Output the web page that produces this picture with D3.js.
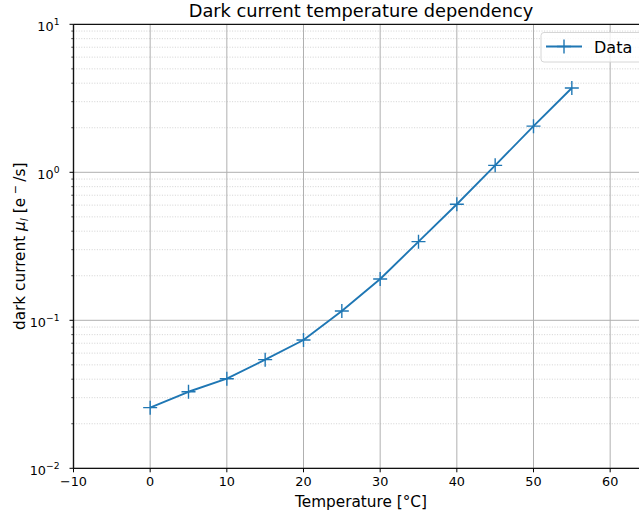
<!DOCTYPE html>
<html>
<head>
<meta charset="utf-8">
<script src="https://cdn.jsdelivr.net/npm/d3@7/dist/d3.min.js"></script>
<style>
  html, body { margin: 0; padding: 0; background: #fff; }
  svg { display: block; font-family: "DejaVu Sans", sans-serif; }
</style>
</head>
<body>
<svg id="chart" width="639" height="516"></svg>
<script>
// Measured dark current vs. sensor temperature
const temperatures = [0, 5, 10, 15, 20, 25, 30, 35, 40, 45, 50, 55];
const darkCurrent = [0.0257, 0.0329, 0.0403, 0.0542, 0.0736, 0.1156, 0.190, 0.340, 0.608, 1.114, 2.05, 3.71];
const xTicks = [-10, 0, 10, 20, 30, 40, 50, 60];
const yExponents = [-2, -1, 0, 1];
const seriesName = "Data";

(function draw() {
  const svg = d3.select("#chart");
  const pLeft = 73.5, pRight = 648.5, pTop = 24.3, pBottom = 468.3;
  const blue = "#1f77b4";

  const x = d3.scaleLinear().domain([-10, 65]).range([pLeft, pRight]);
  const y = d3.scaleLog().domain([0.01, 10]).range([pBottom, pTop]);

  const fmtMinus = v => String(v).replace("-", "\u2212");

  // clip for plot contents
  svg.append("defs").append("clipPath").attr("id", "plotclip")
    .append("rect").attr("x", pLeft).attr("y", pTop).attr("width", pRight - pLeft).attr("height", pBottom - pTop);

  const plot = svg.append("g").attr("clip-path", "url(#plotclip)");

  // minor horizontal grid (dotted)
  const minorVals = [];
  yExponents.slice(0, -1).forEach(e => {
    for (let m = 2; m <= 9; m++) minorVals.push(m * Math.pow(10, e));
  });
  plot.append("g").selectAll("line").data(minorVals).join("line")
    .attr("x1", pLeft).attr("x2", pRight)
    .attr("y1", d => y(d)).attr("y2", d => y(d))
    .attr("stroke", "#c8c8c8").attr("stroke-width", 0.8).attr("stroke-dasharray", "1,1.6");

  // major grid
  plot.append("g").selectAll("line").data(yExponents.map(e => Math.pow(10, e))).join("line")
    .attr("x1", pLeft).attr("x2", pRight)
    .attr("y1", d => y(d)).attr("y2", d => y(d))
    .attr("stroke", "#b0b0b0").attr("stroke-width", 1);
  plot.append("g").selectAll("line").data(xTicks).join("line")
    .attr("x1", d => x(d)).attr("x2", d => x(d))
    .attr("y1", pTop).attr("y2", pBottom)
    .attr("stroke", "#b0b0b0").attr("stroke-width", 1);

  // data line + markers
  const pts = temperatures.map((t, i) => [t, darkCurrent[i]]);
  plot.append("path").datum(pts)
    .attr("fill", "none").attr("stroke", blue).attr("stroke-width", 1.9)
    .attr("stroke-linejoin", "round")
    .attr("d", d3.line().x(d => x(d[0])).y(d => y(d[1])));
  const ms = 7;
  plot.append("g").selectAll("path").data(pts).join("path")
    .attr("d", d => {
      const cx = x(d[0]), cy = y(d[1]);
      return `M${cx - ms},${cy}H${cx + ms}M${cx},${cy - ms}V${cy + ms}`;
    })
    .attr("stroke", blue).attr("stroke-width", 1.4).attr("fill", "none");

  // spines
  const spine = (x1, y1, x2, y2, w) => svg.append("line")
    .attr("x1", x1).attr("y1", y1).attr("x2", x2).attr("y2", y2)
    .attr("stroke", "#111").attr("stroke-width", w);
  spine(pLeft, pTop, pRight, pTop, 1.2);
  spine(pLeft, pBottom, pRight, pBottom, 1.2);
  spine(pLeft, pTop, pLeft, pBottom, 1.4);
  spine(pRight, pTop, pRight, pBottom, 1.2);

  // x axis ticks and labels
  const xg = svg.append("g");
  xg.selectAll("line").data(xTicks).join("line")
    .attr("x1", d => x(d)).attr("x2", d => x(d))
    .attr("y1", pBottom).attr("y2", pBottom + 4)
    .attr("stroke", "#000").attr("stroke-width", 1);
  xg.selectAll("text").data(xTicks).join("text")
    .attr("x", d => x(d)).attr("y", pBottom + 18)
    .attr("text-anchor", "middle").attr("font-size", 12.8).attr("fill", "#000")
    .text(d => fmtMinus(d));

  // y axis ticks (major + minor) and labels
  const yg = svg.append("g");
  yg.selectAll("line.minor").data(minorVals).join("line").attr("class", "minor")
    .attr("x1", pLeft - 2.2).attr("x2", pLeft)
    .attr("y1", d => y(d)).attr("y2", d => y(d))
    .attr("stroke", "#000").attr("stroke-width", 0.7);
  yg.selectAll("line.major").data(yExponents).join("line").attr("class", "major")
    .attr("x1", pLeft - 4).attr("x2", pLeft)
    .attr("y1", d => y(Math.pow(10, d))).attr("y2", d => y(Math.pow(10, d)))
    .attr("stroke", "#000").attr("stroke-width", 1);
  const yl = yg.selectAll("text").data(yExponents).join("text")
    .attr("x", pLeft - 14).attr("y", d => y(Math.pow(10, d)) + 6.5)
    .attr("text-anchor", "end").attr("font-size", 12.8).attr("fill", "#000");
  yl.append("tspan").text("10");
  yl.append("tspan").attr("dy", -6).attr("font-size", 9.2).text(d => fmtMinus(d));

  // title and axis labels
  svg.append("text").attr("x", (pLeft + pRight) / 2).attr("y", 17)
    .attr("text-anchor", "middle").attr("font-size", 17.8).attr("fill", "#000")
    .text("Dark current temperature dependency");
  svg.append("text").attr("x", (pLeft + pRight) / 2).attr("y", 507)
    .attr("text-anchor", "middle").attr("font-size", 15.3).attr("fill", "#000")
    .text("Temperature [°C]");
  const ylab = svg.append("text")
    .attr("transform", `translate(25,${(pTop + pBottom) / 2}) rotate(-90)`)
    .attr("text-anchor", "middle").attr("font-size", 15.3).attr("fill", "#000");
  ylab.append("tspan").text("dark current ");
  ylab.append("tspan").attr("font-style", "italic").text("μ");
  ylab.append("tspan").attr("font-style", "italic").attr("font-size", 11).attr("dy", 3).text("l");
  ylab.append("tspan").attr("dy", -3).text(" [e");
  ylab.append("tspan").attr("font-size", 11).attr("dy", -6).text(" \u2212 ");
  ylab.append("tspan").attr("dy", 6).text("/s]");

  // legend
  const lg = svg.append("g");
  lg.append("rect").attr("x", 541).attr("y", 32.5).attr("width", 110).attr("height", 29.5).attr("rx", 3)
    .attr("fill", "#fff").attr("fill-opacity", 0.8).attr("stroke", "#d6d6d6").attr("stroke-width", 1);
  lg.append("line").attr("x1", 546).attr("x2", 582).attr("y1", 46.5).attr("y2", 46.5)
    .attr("stroke", blue).attr("stroke-width", 1.9);
  lg.append("path").attr("d", `M${564 - ms},46.5H${564 + ms}M564,${46.5 - ms}V${46.5 + ms}`)
    .attr("stroke", blue).attr("stroke-width", 1.4);
  lg.append("text").attr("x", 594).attr("y", 52.5).attr("font-size", 16).attr("fill", "#000").text(seriesName);
})();
</script>
</body>
</html>
